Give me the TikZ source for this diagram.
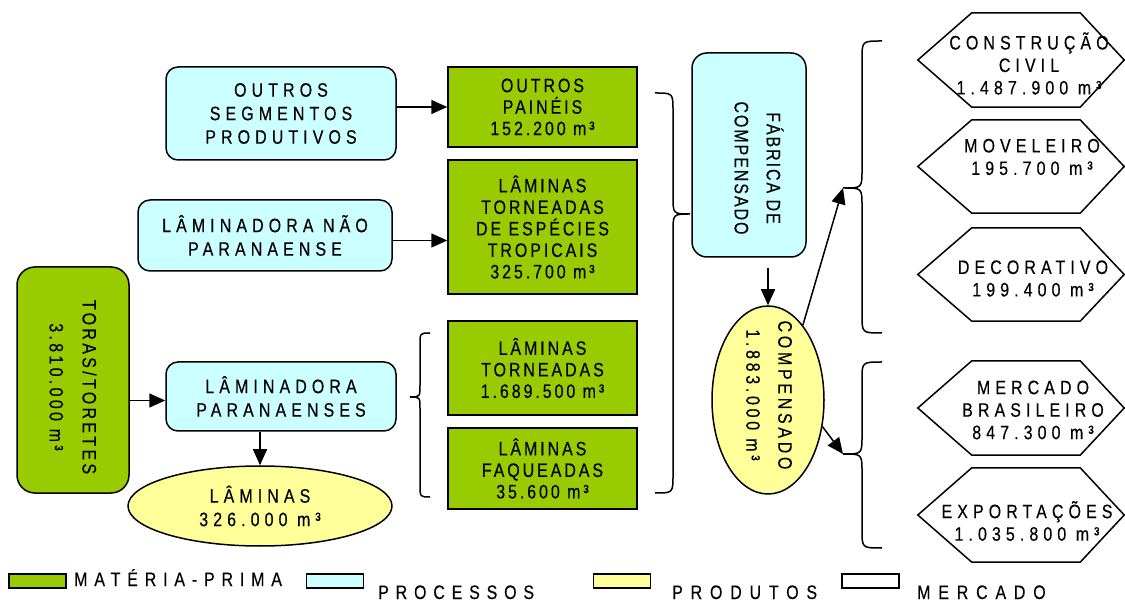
\documentclass[tikz,border=0pt]{standalone}
\usepackage{fontspec}
\setmainfont{Liberation Sans}[FakeStretch=0.82]
\newcommand\mkfam[2]{\newfontfamily#1{Liberation Sans}[FakeStretch=0.82,FakeBold=0.3,LetterSpace=#2]}
\mkfam\fnarrow{15}
\mkfam\ffab{10}
\mkfam\ftoras{17}
\mkfam\fmid{19}
\mkfam\fwide{26}
\mkfam\fleg{40}
\mkfam\flegn{35}
\usetikzlibrary{arrows.meta,shapes.geometric}
\definecolor{mp}{HTML}{99CC00}
\definecolor{proc}{HTML}{CCFFFF}
\definecolor{prod}{HTML}{FFFF99}
\newcommand\drawbrace[7]{%
  \draw[bracel] (#1,#4) .. controls (#2,#4) .. (#2,#4+#7) -- (#2,#5-#7)
    .. controls (#2,#5) .. (#3,#5) .. controls (#2,#5) .. (#2,#5+#7)
    -- (#2,#6-#7) .. controls (#2,#6) .. (#1,#6);}
\newcommand\drawhex[1]{%
  \draw[hexl] (#1.north west) -- (#1.north east) -- ([xshift=44pt]#1.east)
    -- (#1.south east) -- (#1.south west) -- ([xshift=-54pt]#1.west) -- cycle;}
\begin{document}
\begin{tikzpicture}[x=1pt,y=-1pt,
  base/.style={draw=black, line width=1.5pt, inner sep=0pt, align=center},
  greenbox/.style={base, fill=mp, minimum width=189pt, font=\fnarrow\fontsize{19.5}{21.5}\selectfont},
  cyanbox/.style={base, fill=proc, rounded corners=12pt, font=\fwide\fontsize{19.5}{23.5}\selectfont},
  hexbox/.style={minimum width=108pt, inner sep=0pt},
  hexl/.style={draw=black, line width=1.5pt, fill=white},
  hextext/.style={align=center, inner sep=0pt, font=\fwide\fontsize{19.5}{22.5}\selectfont},
  rottext/.style={rotate=-90, align=center, inner sep=0pt},
  arr/.style={line width=1.5pt, -{Triangle[length=16pt,width=14pt]}},
  bracel/.style={line width=1.5pt},
  legbox/.style={base, minimum width=57pt, minimum height=14pt},
  legtext/.style={anchor=base west, inner sep=0pt, font=\fleg\fontsize{19.5}{22}\selectfont}
]
\useasboundingbox (0,0) rectangle (1125,601);

% left column
\node[base, fill=mp, rounded corners=18pt, minimum width=112pt, minimum height=226pt] (toras) at (73,380) {};
\node[rottext, font=\ftoras\fontsize{19.5}{33}\selectfont] (torast) at (73,387) {TORAS/TORETES\\3.810.000 m³};

\node[cyanbox, minimum width=230pt, minimum height=93pt] (seg) at (281,113.5) {OUTROS\\SEGMENTOS\\PRODUTIVOS};
\node[cyanbox, minimum width=254pt, minimum height=71pt] (nao) at (265,235.5) {LÂMINADORA NÃO\\PARANAENSE};
\node[cyanbox, minimum width=230pt, minimum height=69pt] (par) at (281,396.5) {LÂMINADORA\\PARANAENSES};
\node[base, ellipse, fill=prod, minimum width=264pt, minimum height=80pt, font=\fwide\fontsize{19.5}{23.5}\selectfont] (lam) at (260,506) {LÂMINAS\\326.000 m³};

% green column
\node[greenbox, minimum height=80pt] (pain) at (542.5,107) {OUTROS\\PAINÉIS\\152.200 m³};
\node[greenbox, minimum height=134pt] (trop) at (542.5,227) {LÂMINAS\\TORNEADAS\\DE ESPÉCIES\\TROPICAIS\\325.700 m³};
\node[greenbox, minimum height=94pt] (torn) at (542.5,368) {LÂMINAS\\TORNEADAS\\1.689.500 m³};
\node[greenbox, minimum height=81pt] (faq) at (542.5,468.5) {LÂMINAS\\FAQUEADAS\\35.600 m³};

% factory and product
\node[base, fill=proc, rounded corners=15pt, minimum width=114pt, minimum height=204pt] (fab) at (749,155) {};
\node[rottext, font=\ffab\fontsize{19.5}{32}\selectfont] (fabt) at (759,168) {FÁBRICA DE\\COMPENSADO};
\node[base, ellipse, fill=prod, minimum width=112pt, minimum height=188pt] (comp) at (768,400) {};
\node[rottext, font=\fmid\fontsize{19.5}{32}\selectfont] (compt) at (769,395) {COMPENSADO\\1.883.000 m³};

% market hexagons
\node[hexbox, minimum height=94pt] (h1) at (1026,60) {};
\node[hexbox, minimum height=93pt] (h2) at (1026,166.5) {};
\node[hexbox, minimum height=93pt] (h3) at (1026,274.5) {};
\node[hexbox, minimum height=94pt] (h4) at (1026,408) {};
\node[hexbox, minimum height=94pt] (h5) at (1026,515) {};
\drawhex{h1}\drawhex{h2}\drawhex{h3}\drawhex{h4}\drawhex{h5}
\node[hextext] (t1) at (1029,63.5) {CONSTRUÇÃO\\CIVIL\\1.487.900 m³};
\node[hextext] (t2) at (1032,157) {MOVELEIRO\\195.700 m³};
\node[hextext] (t3) at (1033,278.5) {DECORATIVO\\199.400 m³};
\node[hextext] (t4) at (1033,410) {MERCADO\\BRASILEIRO\\847.300 m³};
\node[hextext] (t5) at (1027,521) {EXPORTAÇÕES\\1.035.800 m³};

% braces
\drawbrace{655}{673}{690}{93}{214}{493}{18}
\drawbrace{430}{420}{410}{333}{397}{497}{12}
\drawbrace{882}{862}{843}{41}{188}{333}{18}
\drawbrace{882}{862}{843}{362}{454}{548}{18}
\coordinate (bt1) at (843,188);
\coordinate (bt2) at (843,454);

% arrows
\draw[arr] (seg.east |- pain.west) -- (pain.west);
\draw[arr] ([yshift=-5pt]nao.east) -- ([yshift=-5pt]nao.east -| trop.west);
\draw[arr] ([yshift=-4pt]toras.east |- par.west) -- ([yshift=-4pt]par.west);
\draw[arr] (lam.north |- par.south) -- (lam.north);
\draw[arr] ([yshift=-10pt]comp.north |- fab.south) -- (comp.north);
\draw[arr] (comp.65) -- (bt1);
\draw[arr] (comp.-26) -- (bt2);

% legend
\node[legbox, fill=mp] (lg1) at (37.5,581) {};
\node[legtext, font=\flegn\fontsize{19.5}{22}\selectfont] (lt1) at (74,586) {MATÉRIA-PRIMA};
\node[legbox, fill=proc] (lg2) at (335,581) {};
\node[legtext, font=\flegn\fontsize{19.5}{22}\selectfont] (lt2) at (378,599) {PROCESSOS};
\node[legbox, fill=prod] (lg3) at (622,581) {};
\node[legtext] (lt3) at (672,599) {PRODUTOS};
\node[legbox, fill=white] (lg4) at (870.5,581) {};
\node[legtext] (lt4) at (917,599) {MERCADO};
\end{tikzpicture}
\end{document}
